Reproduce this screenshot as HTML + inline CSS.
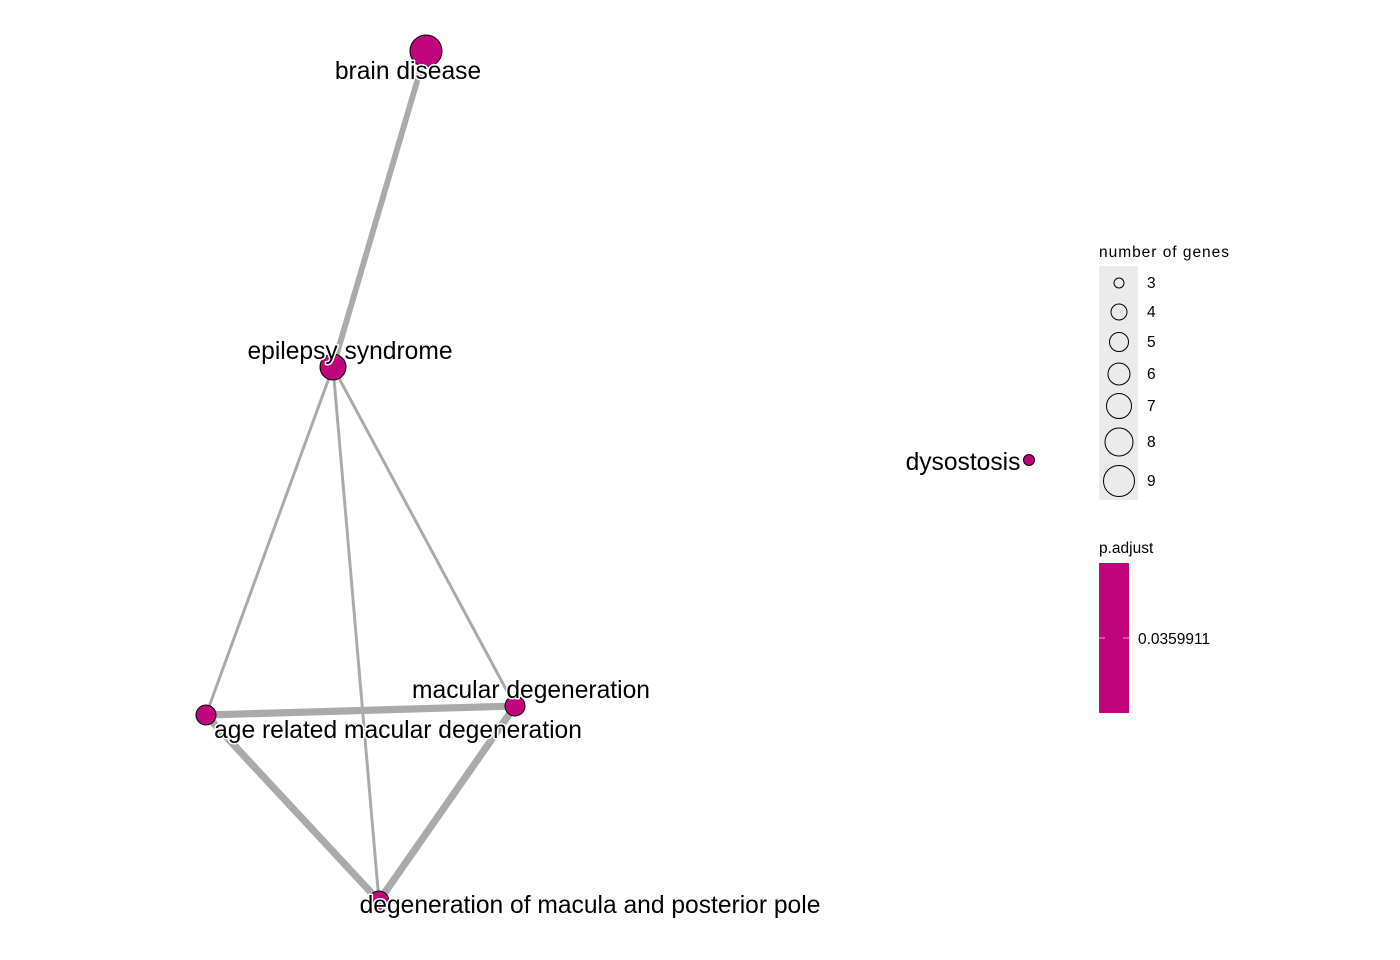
<!DOCTYPE html>
<html><head><meta charset="utf-8"><style>
body{margin:0;background:#fff}
svg{display:block;font-family:"Liberation Sans",sans-serif}
.lbl{font-size:24.6px;fill:#000;stroke:#fff;stroke-width:3;paint-order:stroke;stroke-linejoin:round}
.leg{font-size:15.5px}
</style></head><body>
<svg width="1400" height="960">
<g id="edges"></g><g id="nodes"></g><g id="labels"></g>
<g id="legend">
<text x="1099" y="257" class="leg" textLength="130">number of genes</text>
<rect x="1099" y="266" width="39" height="234" fill="#ebebeb"/>
<g id="sizeleg"></g>
<text x="1099" y="553" class="leg">p.adjust</text>
<rect x="1099" y="563" width="30" height="150" fill="#c0047b"/>
<line x1="1099" y1="638" x2="1105" y2="638" stroke="#e8a0c8"/>
<line x1="1123" y1="638" x2="1129" y2="638" stroke="#e8a0c8"/>
<text x="1138" y="644" class="leg">0.0359911</text>
</g>
</svg>
<script>
const nodeNames=["brain disease","epilepsy syndrome","age related macular degeneration","macular degeneration","degeneration of macula and posterior pole","dysostosis"];
const nodeX=[426,333,206,515,379,1029];
const nodeY=[51,367,715,706,901,460];
const nodeGenes=[9,7,5,5,5,3];
const edgeFrom=[0,1,1,1,2,2,3];
const edgeTo=[1,2,4,3,3,4,4];
const edgeWeight=[0.65,0.33,0.33,0.33,0.8,0.8,0.8];
const labelX=[408,350,398,531,590,963];
const labelY=[79,359,738,698,913,470];
const legendGenes=[3,4,5,6,7,8,9];
const legendY=[283,312,342,374,406,442,481];
const NS="http://www.w3.org/2000/svg";
const RT=[5,8,9.5,11,12.5,14,15.5];
function rad(g){return RT[Math.max(0,Math.min(6,g-3))];}
function mk(t,a,p){const e=document.createElementNS(NS,t);for(const k in a)e.setAttribute(k,a[k]);document.getElementById(p).appendChild(e);return e;}
for(let i=0;i<edgeFrom.length;i++){
 const e=mk("line",{x1:nodeX[edgeFrom[i]],y1:nodeY[edgeFrom[i]],x2:nodeX[edgeTo[i]],y2:nodeY[edgeTo[i]],stroke:"#aaaaaa","stroke-width":edgeWeight[i]*9},"edges");
 
 
}
for(let i=0;i<nodeNames.length;i++){
 const c=mk("circle",{cx:nodeX[i],cy:nodeY[i],r:rad(nodeGenes[i])+0.5,fill:"#c0047b",stroke:"#000","stroke-width":1},"nodes");
 
 
 const t=mk("text",{x:labelX[i],y:labelY[i],"text-anchor":"middle",class:"lbl"},"labels");
 t.textContent=nodeNames[i];
 
 
}
for(let i=0;i<legendGenes.length;i++){
 const c=mk("circle",{cx:1119,cy:legendY[i],r:rad(legendGenes[i]),fill:"none",stroke:"#000","stroke-width":1},"sizeleg");
 
 
 const t=mk("text",{x:1147,y:legendY[i]+5,class:"leg"},"sizeleg");
 t.textContent=legendGenes[i];
 
 
}
</script>
</body></html>
